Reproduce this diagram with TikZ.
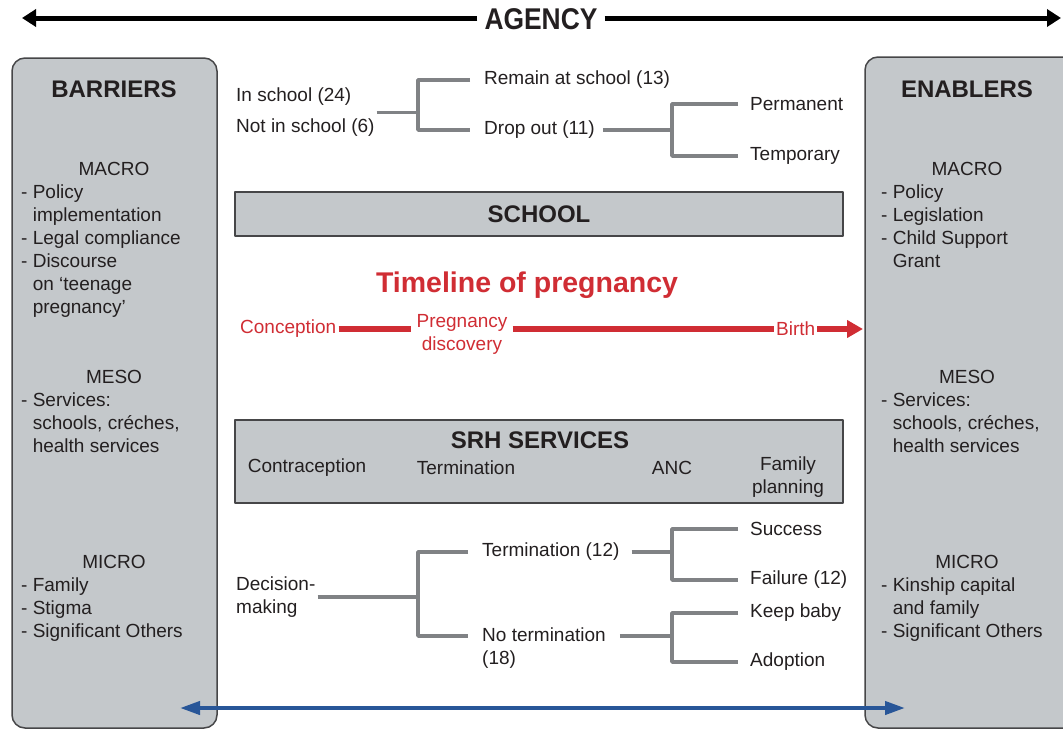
\documentclass[tikz,border=0pt]{standalone}
\usepackage{fontspec}
\setmainfont{Liberation Sans}
\usetikzlibrary{arrows.meta}
\definecolor{panelgray}{RGB}{196,200,203}
\definecolor{edgegray}{RGB}{70,70,72}
\definecolor{branchgray}{RGB}{128,130,133}
\definecolor{timered}{RGB}{208,45,52}
\definecolor{spanblue}{RGB}{40,86,152}
\definecolor{inkblack}{RGB}{35,31,32}
\begin{document}
\begin{tikzpicture}[x=1pt, y=-1pt, line join=round,
  every node/.style={font=\fontsize{19}{23}\selectfont, text=inkblack, inner sep=2pt},
  head/.style={font=\fontsize{24}{28}\selectfont\bfseries},
  items/.style={anchor=north west, align=left, inner sep=0pt},
  leaf/.style={anchor=west},
  panel/.style={draw=edgegray, fill=panelgray, line width=1.5pt, rounded corners=13pt},
  bar/.style={draw=edgegray, fill=panelgray, line width=1.5pt, minimum width=608pt},
  branch/.style={draw=branchgray, line width=3.5pt},
  redtxt/.style={text=timered},
  redline/.style={draw=timered, line width=6pt}]
  \useasboundingbox (0,0) rectangle (1063,731);
  \begin{scope}
    \clip (0,0) rectangle (1063,731);
    \draw[panel] (12,58) rectangle (217,728);
    \draw[panel] (865,57) rectangle (1085,728);
  \end{scope}

  \node[font=\fontsize{30}{32}\selectfont\bfseries, inner sep=7pt] (agency) at (541,19) {\scalebox{0.88}[1]{AGENCY}};
  \coordinate (agencyL) at (22,18);
  \coordinate (agencyR) at (1061,18);
  \draw[line width=5pt, -{Triangle[length=14pt,width=17pt]}] (agency.west |- agencyL) -- (agencyL);
  \draw[line width=5pt, -{Triangle[length=14pt,width=17pt]}] (agency.east |- agencyR) -- (agencyR);

  \node[head] (barriers) at (114,89) {BARRIERS};
  \node (macroB) at (114,169) {MACRO};
  \node[items] (macroBlist) at (21,185) {- Policy\\\hphantom{- }implementation\\- Legal compliance\\- Discourse\\\hphantom{- }on `teenage\\\hphantom{- }pregnancy'};
  \node (mesoB) at (114,377) {MESO};
  \node[items] (mesoBlist) at (21,393) {- Services:\\\hphantom{- }schools, créches,\\\hphantom{- }health services};
  \node (microB) at (114,562) {MICRO};
  \node[items] (microBlist) at (21,578) {- Family\\- Stigma\\- Significant Others};

  \node[head] (enablers) at (967,89) {ENABLERS};
  \node (macroE) at (967,169) {MACRO};
  \node[items] (macroElist) at (881,185) {- Policy\\- Legislation\\- Child Support\\\hphantom{- }Grant};
  \node (mesoE) at (967,377) {MESO};
  \node[items] (mesoElist) at (881,393) {- Services:\\\hphantom{- }schools, créches,\\\hphantom{- }health services};
  \node (microE) at (967,562) {MICRO};
  \node[items] (microElist) at (881,578) {- Kinship capital\\\hphantom{- }and family\\- Significant Others};

  \node[anchor=west, align=left] (status) at (234,112.5) {In school (24)\\[8pt]Not in school (6)};
  \node[leaf] (remain) at (482,80) {Remain at school (13)};
  \node[leaf] (dropout) at (482,130) {Drop out (11)};
  \node[leaf] (permanent) at (748,104) {Permanent};
  \node[leaf] (temporary) at (748,156) {Temporary};
  \coordinate (forkA) at (418,112);
  \coordinate (forkB) at (672,130);
  \draw[branch] (status.east) -- (status.east -| forkA);
  \draw[branch] ([xshift=-12pt]remain.west) -| (forkA) |- ([xshift=-12pt]dropout.west);
  \draw[branch] ([xshift=6pt]dropout.east) -- (dropout.east -| forkB);
  \draw[branch] ([xshift=-10pt]permanent.west) -| (forkB) |- ([xshift=-10pt]temporary.west);

  \node[bar, head, minimum height=44pt] (school) at (539,214) {SCHOOL};

  \node[redtxt, font=\fontsize{28.5}{30}\selectfont\bfseries] (timeline) at (527,285) {Timeline of pregnancy};
  \node[redtxt, anchor=west] (conception) at (238,329) {Conception};
  \node[redtxt, align=center, inner sep=5pt] (discovery) at (462,334) {Pregnancy\\discovery};
  \node[redtxt, anchor=west] (birth) at (774,329) {Birth};
  \coordinate (birthtip) at (863,329);
  \draw[redline] (conception.east) -- (conception.east -| discovery.west);
  \draw[redline] (conception.east -| discovery.east) -- (birth.west);
  \draw[redline, -{Triangle[length=16pt,width=17pt]}] (birth.east) -- (birthtip);

  \node[bar, minimum height=83pt] (srh) at (539,461.5) {};
  \node[head] (srhtitle) at (540,440) {SRH SERVICES};
  \node (contra) at (307,468) {Contraception};
  \node (termsrv) at (466,468) {Termination};
  \node (anc) at (672,468) {ANC};
  \node[align=center] (famplan) at (788,477) {Family\\planning};

  \node[anchor=west, align=left] (decision) at (234,597) {Decision-\\making};
  \node[leaf] (termin) at (480,552) {Termination (12)};
  \node[leaf, align=left] (noterm) at (480,648) {No termination\\(18)};
  \node[leaf] (success) at (748,529) {Success};
  \node[leaf] (failure) at (748,580) {Failure (12)};
  \node[leaf] (keepbaby) at (748,613) {Keep baby};
  \node[leaf] (adoption) at (748,662) {Adoption};
  \coordinate (forkC) at (418,594);
  \coordinate (forkD) at (672,552);
  \coordinate (forkE) at (672,636);
  \draw[branch] (decision.east) -- (decision.east -| forkC);
  \draw[branch] ([xshift=-12pt]termin.west) -| (forkC) |- ([xshift=-12pt,yshift=12pt]noterm.west);
  \draw[branch] ([xshift=10pt]termin.east) -- (termin.east -| forkD);
  \draw[branch] ([xshift=-10pt]success.west) -| (forkD) |- ([xshift=-10pt]failure.west);
  \draw[branch] ([xshift=12pt,yshift=12pt]noterm.east) -- ([yshift=12pt]noterm.east -| forkE);
  \draw[branch] ([xshift=-10pt]keepbaby.west) -| (forkE) |- ([xshift=-10pt]adoption.west);

  \coordinate (spanL) at (180,708);
  \coordinate (spanR) at (905,708);
  \draw[spanblue, line width=4pt, {Triangle[length=20pt,width=13pt]}-{Triangle[length=20pt,width=13pt]}] (spanL) -- (spanR);
\end{tikzpicture}
\end{document}
